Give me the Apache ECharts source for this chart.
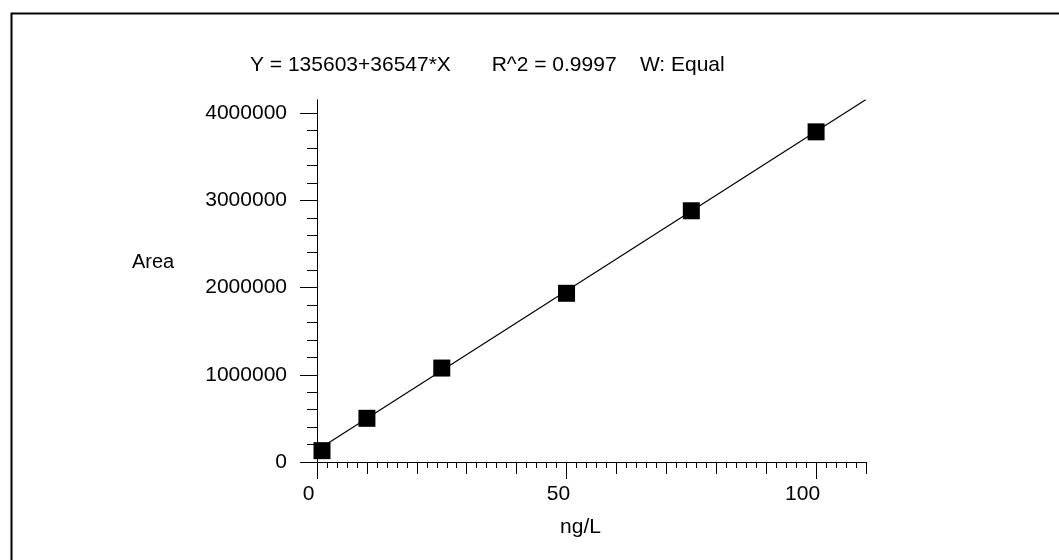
<!DOCTYPE html>
<html><head><meta charset="utf-8">
<script src="https://cdn.jsdelivr.net/npm/echarts@6/dist/echarts.min.js"></script>
<style>html,body{margin:0;padding:0;background:#fff}#c{width:1059px;height:560px}</style>
</head><body><div id="c"></div>
<script>
// ---- data ----
const concentrations = [1, 10, 25, 50, 75, 100];
const areas = [130000, 501000, 1077000, 1934000, 2880000, 3785000];
const fitLineX = [0, 110];
const fitLineY = [135603, 4155773];
const xLabelTicks = [0, 50, 100];
const xMidTicks = [0, 10, 20, 30, 40, 50, 60, 70, 80, 90, 100, 110];
const xMinorTicks = [0, 2, 4, 6, 8, 10, 12, 14, 16, 18, 20, 22, 24, 26, 28, 30, 32, 34, 36, 38, 40, 42, 44, 46, 48, 50, 52, 54, 56, 58, 60, 62, 64, 66, 68, 70, 72, 74, 76, 78, 80, 82, 84, 86, 88, 90, 92, 94, 96, 98, 100, 102, 104, 106, 108, 110];
const yLabelTicks = [0, 1000000, 2000000, 3000000, 4000000];
const yMinorTicks = [0, 200000, 400000, 600000, 800000, 1000000, 1200000, 1400000, 1600000, 1800000, 2000000, 2200000, 2400000, 2600000, 2800000, 3000000, 3200000, 3400000, 3600000, 3800000, 4000000];
const titleText = 'Y = 135603+36547*X       R^2 = 0.9997    W: Equal';
const xName = 'ng/L';
const yName = 'Area';

const FONT = "'Liberation Sans', Arial, sans-serif";
const FS = 21;
const X_MIN = 0, X_MAX = 110, Y_MIN = 0, Y_MAX = 4150000;
// label shift (right padding) per x label, to sit slightly left of its tick
const xLabelPad = { 0: 17, 50: 16, 100: 27 };
const xRich = {};
xLabelTicks.forEach(v => { xRich['p' + v] = { color: '#000', fontSize: FS, fontFamily: FONT, padding: [0, xLabelPad[v] || 0, 0, 0] }; });

function xAx(ticks, len, labels) {
  return {
    type: 'value', min: X_MIN, max: X_MAX, position: 'bottom', offset: 0,
    axisLine: { show: true, lineStyle: { color: '#000', width: 1 } },
    axisTick: { show: true, length: len, customValues: ticks, lineStyle: { color: '#000', width: 1 } },
    axisLabel: labels ? { show: true, customValues: labels, margin: 22, color: '#000', fontSize: FS, fontFamily: FONT,
      formatter: v => '{p' + v + '|' + v + '}', rich: xRich } : { show: false },
    splitLine: { show: false },
    name: labels ? xName : '', nameLocation: 'middle', nameGap: 55,
    nameTextStyle: { color: '#000', fontSize: FS, fontFamily: FONT, padding: [0, 22, 0, 0] }
  };
}
function yAx(ticks, len, labels) {
  return {
    type: 'value', min: Y_MIN, max: Y_MAX, position: 'left', offset: 0,
    axisLine: { show: true, lineStyle: { color: '#000', width: 1 } },
    axisTick: { show: true, length: len, customValues: ticks, lineStyle: { color: '#000', width: 1 } },
    axisLabel: labels ? { show: true, customValues: labels, margin: 30, color: '#000', fontSize: FS, fontFamily: FONT, formatter: v => String(v) } : { show: false },
    splitLine: { show: false }
  };
}

const chart = echarts.init(document.getElementById('c'), null, { renderer: 'canvas' });
chart.setOption({
  animation: false,
  backgroundColor: '#fff',
  grid: { left: 317, right: 193, top: 100, bottom: 98, containLabel: false, outerBoundsMode: 'none' },
  title: { text: titleText, left: 250, top: 55, padding: 0,
    textStyle: { color: '#000', fontSize: FS, fontWeight: 'normal', fontFamily: FONT } },
  graphic: [
    { type: 'rect', left: 9, top: 11, shape: { width: 1200, height: 700 }, style: { fill: 'none', stroke: '#000', lineWidth: 2 }, silent: true },
    { type: 'text', left: 132, top: 252, style: { text: yName, fill: '#000', font: '20px ' + FONT } }
  ],
  xAxis: [ xAx(xLabelTicks, 17, xLabelTicks), xAx(xMidTicks, 12, null), xAx(xMinorTicks, 6, null) ],
  yAxis: [ yAx(yLabelTicks, 17, yLabelTicks), yAx(yMinorTicks, 10, null) ],
  series: [
    { type: 'line', xAxisIndex: 0, yAxisIndex: 0, showSymbol: false, symbol: 'none',
      data: fitLineX.map((x, i) => [x, fitLineY[i]]),
      lineStyle: { color: '#000', width: 1.2 }, z: 2 },
    { type: 'scatter', xAxisIndex: 0, yAxisIndex: 0, symbol: 'rect', symbolSize: 17,
      data: concentrations.map((x, i) => [x, areas[i]]),
      itemStyle: { color: '#000', opacity: 1 }, z: 3 }
  ]
});
</script></body></html>
